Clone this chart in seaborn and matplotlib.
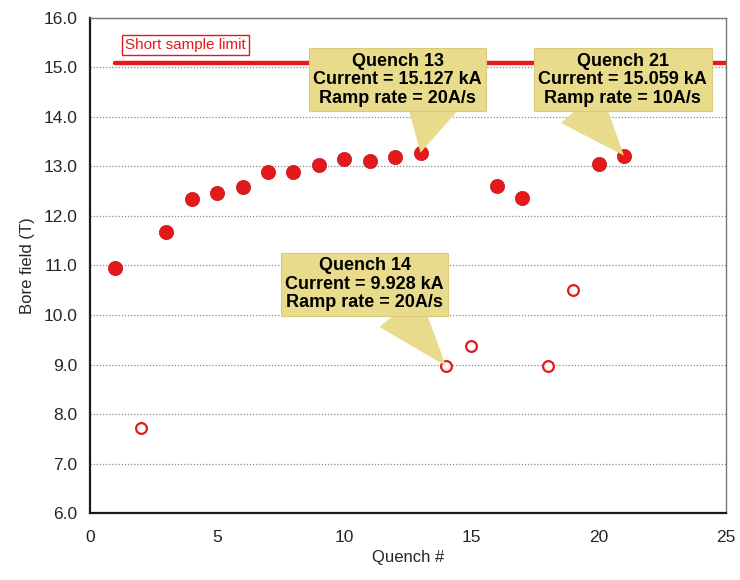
import matplotlib
matplotlib.use("Agg")
import matplotlib.pyplot as plt
import seaborn as sns
import pandas as pd

# ---- data ----
quench_no = [1, 2, 3, 4, 5, 6, 7, 8, 9, 10, 11, 12, 13, 14, 15, 16, 17, 18, 19, 20, 21]
bore_field = [10.95, 7.72, 11.67, 12.34, 12.47, 12.58, 12.88, 12.88, 13.04, 13.15,
              13.12, 13.20, 13.28, 8.97, 9.37, 12.60, 12.36, 8.97, 10.50, 13.06, 13.22]
quench_kind = ["filled", "open", "filled", "filled", "filled", "filled", "filled", "filled",
               "filled", "filled", "filled", "filled", "filled", "open", "open", "filled",
               "filled", "open", "open", "filled", "filled"]
limit_x = [1, 25]
limit_y = [15.1, 15.1]
limit_label = "Short sample limit"
callout_quench = [13, 21, 14]
callout_text = ["Quench 13\nCurrent = 15.127 kA\nRamp rate = 20A/s",
                "Quench 21\nCurrent = 15.059 kA\nRamp rate = 10A/s",
                "Quench 14\nCurrent = 9.928 kA\nRamp rate = 20A/s"]
x_ticks = [0, 5, 10, 15, 20, 25]
y_ticks = [6.0, 7.0, 8.0, 9.0, 10.0, 11.0, 12.0, 13.0, 14.0, 15.0, 16.0]

df = pd.DataFrame({"q": quench_no, "b": bore_field, "k": quench_kind})
lim = pd.DataFrame({"x": limit_x, "y": limit_y})

sns.set_style("white")
plt.rcParams["font.family"] = ["Liberation Sans", "DejaVu Sans"]

RED = "#E3191C"
BOX = "#E8DB8C"

fig = plt.figure(figsize=(7.4, 5.8), dpi=100)
ax = fig.add_axes([0.1216, 0.1155, 0.859, 0.8535])

# grid
for yv in y_ticks[1:]:
    ax.axhline(yv, color="#8a8a8a", lw=0.9, ls=(0, (1, 1.5)), zorder=0)

sns.lineplot(data=lim, x="x", y="y", color=RED, lw=3.2, ax=ax, zorder=2)

filled = df[df.k == "filled"]
opn = df[df.k == "open"]
sns.scatterplot(data=filled, x="q", y="b", s=105, color=RED, edgecolor="#C01414",
                linewidth=0.5, ax=ax, zorder=4)
sns.scatterplot(data=opn, x="q", y="b", s=60, facecolor="white", edgecolor=RED,
                linewidth=1.6, ax=ax, zorder=4)

ax.set_xlim(0, 25)
ax.set_ylim(6, 16)
ax.set_xticks(x_ticks)
ax.set_yticks(y_ticks)
ax.set_yticklabels([f"{v:.1f}" for v in y_ticks])
ax.tick_params(axis="both", labelsize=12.5, direction="out", length=5, width=1,
               color="#333333", pad=4)
ax.tick_params(axis="x", pad=7)
ax.set_xlabel("Quench #", fontsize=12, labelpad=4)
ax.set_ylabel("Bore field (T)", fontsize=12, labelpad=6)

for s in ["left", "bottom"]:
    ax.spines[s].set_color("#1a1a1a")
    ax.spines[s].set_linewidth(1.6)
for s in ["top", "right"]:
    ax.spines[s].set_color("#777777")
    ax.spines[s].set_linewidth(1.0)

# short sample limit label
ax.text(3.75, 15.46, limit_label, color=RED, fontsize=11, ha="center", va="center",
        bbox=dict(boxstyle="square,pad=0.2", fc="white", ec=RED, lw=1.0), zorder=5)

# callouts
box_pos = {13: (12.1, 14.75), 21: (20.95, 14.75), 14: (10.8, 10.62)}
rel_x = {13: 0.70, 21: 0.25, 14: 0.72}
for qn, txt in zip(callout_quench, callout_text):
    yv = bore_field[quench_no.index(qn)]
    ax.annotate(txt, xy=(qn, yv), xytext=box_pos[qn], textcoords="data",
                ha="center", va="center", fontsize=13, fontweight="bold",
                linespacing=1.12, color="black",
                bbox=dict(boxstyle="square,pad=0.25", fc=BOX, ec="#d8cb7c", lw=0.8),
                arrowprops=dict(arrowstyle="wedge,tail_width=1.5,shrink_factor=0.5",
                                fc=BOX, ec="none", relpos=(rel_x[qn], 0.02),
                                shrinkA=0, shrinkB=0, patchA=None, mutation_scale=25),
                zorder=6)

fig.savefig("out.png", dpi=100)
